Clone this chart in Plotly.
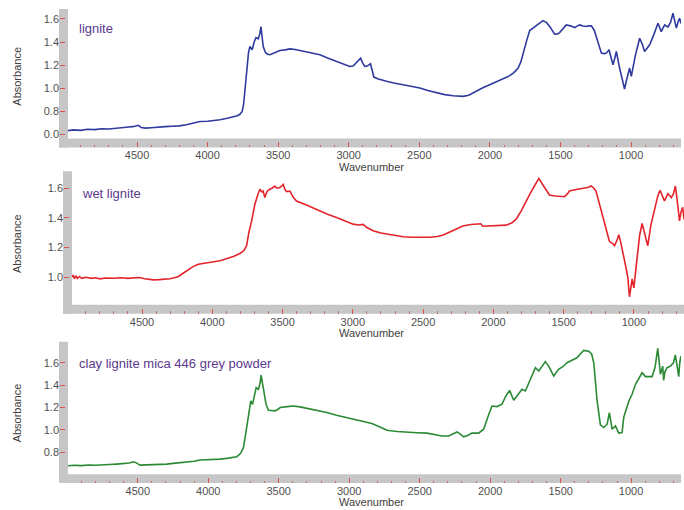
import plotly.graph_objects as go

# ---- FTIR absorbance spectra (wavenumber in cm-1, absorbance) ----
lignite_wn = [4990, 4950, 4900, 4850, 4800, 4750, 4700, 4650, 4600, 4560, 4530, 4510, 4490, 4470,
              4440, 4400, 4350, 4300, 4250, 4200, 4150, 4100, 4054, 4000, 3950, 3912, 3860, 3820,
              3790, 3771, 3755, 3745, 3735, 3720, 3710, 3700, 3692, 3684, 3670, 3657, 3641, 3630,
              3622, 3614, 3606, 3590, 3575, 3558, 3530, 3510, 3488, 3450, 3417, 3380, 3346, 3300,
              3250, 3204, 3150, 3086, 3040, 2992, 2969, 2950, 2930, 2916, 2900, 2886, 2870, 2855,
              2846, 2835, 2822, 2790, 2760, 2732, 2680, 2615, 2560, 2496, 2440, 2378, 2320, 2261,
              2220, 2190, 2150, 2095, 2050, 2001, 1960, 1918, 1890, 1859, 1830, 1800, 1780, 1765,
              1740, 1718, 1690, 1671, 1645, 1624, 1600, 1576, 1541, 1520, 1506, 1480, 1459, 1430,
              1399, 1380, 1364, 1340, 1317, 1300, 1281, 1260, 1246, 1228, 1210, 1190, 1175, 1156,
              1140, 1128, 1115, 1104, 1081, 1060, 1046, 1030, 1010, 998, 970, 939, 920, 904, 868,
              840, 809, 786, 762, 739, 720, 703, 679, 665, 656, 646]
lignite_abs = [0.634, 0.640, 0.636, 0.645, 0.642, 0.650, 0.648, 0.656, 0.660, 0.665, 0.668, 0.672, 0.680, 0.660,
               0.655, 0.658, 0.665, 0.668, 0.672, 0.675, 0.685, 0.698, 0.712, 0.715, 0.720, 0.728, 0.740, 0.752,
               0.762, 0.775, 0.800, 0.860, 0.980, 1.200, 1.310, 1.361, 1.345, 1.333, 1.400, 1.439, 1.428, 1.470,
               1.534, 1.450, 1.361, 1.310, 1.295, 1.290, 1.305, 1.315, 1.327, 1.332, 1.341, 1.335, 1.327, 1.318,
               1.303, 1.290, 1.262, 1.232, 1.210, 1.189, 1.192, 1.215, 1.245, 1.261, 1.215, 1.189, 1.192, 1.205,
               1.212, 1.160, 1.097, 1.080, 1.068, 1.060, 1.045, 1.031, 1.018, 1.003, 0.980, 0.959, 0.945, 0.936,
               0.932, 0.930, 0.940, 0.978, 1.005, 1.031, 1.052, 1.074, 1.090, 1.109, 1.135, 1.175, 1.230, 1.304,
               1.410, 1.499, 1.525, 1.542, 1.565, 1.585, 1.570, 1.534, 1.468, 1.470, 1.482, 1.520, 1.548, 1.540,
               1.525, 1.540, 1.548, 1.538, 1.534, 1.540, 1.540, 1.500, 1.447, 1.370, 1.304, 1.300, 1.304, 1.333,
               1.260, 1.203, 1.260, 1.318, 1.175, 1.060, 0.994, 1.080, 1.175, 1.103, 1.280, 1.433, 1.380, 1.318, 1.376,
               1.460, 1.563, 1.490, 1.548, 1.530, 1.570, 1.649, 1.520, 1.580, 1.606, 1.560]

wet_wn = [4998, 4990, 4980, 4970, 4960, 4945, 4930, 4900, 4860, 4830, 4799, 4760, 4700, 4650, 4600, 4562,
          4520, 4480, 4450, 4420, 4380, 4340, 4300, 4278, 4240, 4210, 4182, 4140, 4100, 4040, 4000, 3945,
          3898, 3850, 3803, 3775, 3756, 3740, 3720, 3697, 3675, 3661, 3648, 3638, 3626, 3610, 3590, 3575,
          3555, 3540, 3519, 3505, 3495, 3485, 3472, 3448, 3425, 3401, 3370, 3330, 3290, 3235, 3180, 3116,
          3060, 2998, 2960, 2927, 2900, 2856, 2800, 2760, 2700, 2642, 2580, 2523, 2450, 2400, 2357, 2310,
          2270, 2239, 2218, 2160, 2109, 2090, 2076, 2030, 1960, 1909, 1870, 1838, 1800, 1767, 1735, 1708,
          1690, 1677, 1660, 1637, 1620, 1601, 1560, 1530, 1495, 1475, 1459, 1420, 1364, 1330, 1305, 1285,
          1270, 1250, 1222, 1195, 1175, 1150, 1139, 1120, 1108, 1095, 1080, 1060, 1044, 1032, 1022, 1013,
          1001, 980, 960, 942, 925, 902, 880, 850, 830, 814, 795, 783, 770, 759, 745, 735, 720, 705, 690,
          676, 665, 653, 644]
wet_abs = [1.000, 1.015, 0.990, 1.010, 0.992, 1.005, 0.993, 1.000, 0.992, 0.996, 0.989, 0.995, 0.993, 0.996, 0.992, 0.993,
           0.998, 0.990, 0.985, 0.982, 0.984, 0.986, 0.990, 0.995, 1.005, 1.025, 1.044, 1.070, 1.088, 1.100, 1.103, 1.111,
           1.123, 1.140, 1.160, 1.180, 1.212, 1.300, 1.380, 1.492, 1.560, 1.593, 1.575, 1.581, 1.537, 1.580, 1.593, 1.600,
           1.615, 1.600, 1.604, 1.620, 1.626, 1.595, 1.577, 1.581, 1.540, 1.514, 1.500, 1.487, 1.470, 1.447, 1.425, 1.403,
           1.380, 1.358, 1.352, 1.356, 1.335, 1.313, 1.298, 1.291, 1.280, 1.273, 1.270, 1.268, 1.270, 1.275, 1.284, 1.305,
           1.325, 1.340, 1.346, 1.355, 1.362, 1.360, 1.344, 1.345, 1.348, 1.351, 1.365, 1.391, 1.450, 1.514, 1.570, 1.615,
           1.645, 1.666, 1.640, 1.604, 1.575, 1.554, 1.548, 1.545, 1.543, 1.560, 1.581, 1.590, 1.599, 1.605, 1.615, 1.600,
           1.581, 1.510, 1.403, 1.300, 1.242, 1.225, 1.212, 1.250, 1.286, 1.240, 1.179, 1.080, 1.000, 0.868, 0.930, 0.989,
           0.928, 1.120, 1.280, 1.362, 1.300, 1.212, 1.350, 1.480, 1.550, 1.586, 1.540, 1.514, 1.540, 1.564, 1.550, 1.537,
           1.560, 1.615, 1.500, 1.380, 1.440, 1.472, 1.390]

clay_wn = [4995, 4950, 4900, 4850, 4800, 4768, 4700, 4650, 4600, 4560, 4531, 4510, 4484, 4450, 4400, 4350,
           4294, 4250, 4200, 4150, 4100, 4058, 4000, 3916, 3870, 3821, 3797, 3770, 3750, 3730, 3715, 3698,
           3686, 3670, 3660, 3644, 3632, 3625, 3616, 3608, 3590, 3573, 3550, 3525, 3505, 3490, 3440, 3395,
           3350, 3300, 3230, 3158, 3090, 3016, 2970, 2922, 2880, 2839, 2790, 2732, 2660, 2590, 2520, 2448,
           2400, 2342, 2295, 2260, 2235, 2210, 2188, 2160, 2129, 2082, 2046, 2015, 1987, 1951, 1916, 1890,
           1862, 1833, 1800, 1774, 1750, 1720, 1690, 1679, 1655, 1630, 1608, 1580, 1549, 1514, 1480, 1455,
           1420, 1384, 1360, 1336, 1301, 1280, 1265, 1250, 1241, 1218, 1194, 1170, 1154, 1135, 1111, 1088,
           1064, 1052, 1016, 993, 969, 945, 922, 898, 851, 830, 811, 800, 792, 784, 776, 769, 760, 745, 721,
           700, 686, 672, 662, 655, 647]
clay_abs = [0.679, 0.683, 0.680, 0.686, 0.684, 0.688, 0.690, 0.694, 0.697, 0.703, 0.714, 0.705, 0.685, 0.686, 0.690, 0.692,
            0.694, 0.700, 0.706, 0.712, 0.720, 0.730, 0.732, 0.738, 0.745, 0.755, 0.760, 0.790, 0.843, 1.000, 1.140, 1.259,
            1.229, 1.320, 1.379, 1.363, 1.420, 1.491, 1.420, 1.348, 1.230, 1.176, 1.170, 1.170, 1.185, 1.200, 1.208, 1.214,
            1.206, 1.194, 1.175, 1.155, 1.132, 1.111, 1.100, 1.087, 1.070, 1.057, 1.030, 0.997, 0.985, 0.977, 0.975, 0.971,
            0.962, 0.946, 0.946, 0.965, 0.982, 0.960, 0.938, 0.950, 0.971, 0.971, 1.006, 1.120, 1.214, 1.209, 1.230, 1.300,
            1.354, 1.265, 1.320, 1.363, 1.348, 1.440, 1.530, 1.557, 1.527, 1.570, 1.611, 1.560, 1.482, 1.542, 1.570, 1.601,
            1.625, 1.646, 1.680, 1.712, 1.705, 1.680, 1.601, 1.400, 1.259, 1.045, 1.021, 1.051, 1.155, 1.006, 1.036, 0.971,
            0.977, 1.113, 1.259, 1.319, 1.408, 1.460, 1.512, 1.477, 1.477, 1.560, 1.730, 1.600, 1.497, 1.530, 1.571, 1.444,
            1.520, 1.557, 1.571, 1.600, 1.670, 1.560, 1.477, 1.600, 1.660]

# Tick labels for each panel (top panel uses a broken axis: lowest label reads 0.0)
top_tickvals = [0.6, 0.8, 1.0, 1.2, 1.4, 1.6]
top_ticktext = ["0.0", "0.8", "1.0", "1.2", "1.4", "1.6"]
mid_tickvals = [1.0, 1.2, 1.4, 1.6]
mid_ticktext = ["1.0", "1.2", "1.4", "1.6"]
bot_tickvals = [0.8, 1.0, 1.2, 1.4, 1.6]
bot_ticktext = ["0.8", "1.0", "1.2", "1.4", "1.6"]
x_tickvals = [4500, 4000, 3500, 3000, 2500, 2000, 1500, 1000]

panel_names = ["lignite", "wet lignite", "clay lignite mica 446 grey powder"]
line_colors = ["#2f3a9e", "#e3242b", "#2b8a34"]

W, H = 684, 510
FONT = "Liberation Sans, Arial, sans-serif"
BAND = "#c6c6c6"
TICK_RED = "#d9534f"

# Panel geometry in pixels: plot-area left, right, top, bottom
panels = [
    dict(l=68, r=681, t=9, b=139, yr=[0.566, 1.686], tv=top_tickvals, tt=top_ticktext,
         xr=[4989, 646], title_y=168, abs_y=77, name_y=29),
    dict(l=72, r=684, t=172, b=306, yr=[0.814, 1.714], tv=mid_tickvals, tt=mid_ticktext,
         xr=[4998, 644], title_y=334, abs_y=245, name_y=194),
    dict(l=68, r=681, t=343, b=476, yr=[0.604, 1.79], tv=bot_tickvals, tt=bot_ticktext,
         xr=[4995, 646], title_y=504, abs_y=415, name_y=365),
]
band = 9  # thickness of the grey axis bands

def px(xp):
    return xp / W

def py(yp):
    return 1 - yp / H

fig = go.Figure()
series = [(lignite_wn, lignite_abs), (wet_wn, wet_abs), (clay_wn, clay_abs)]
shapes = []
annotations = []

for i, (p, (wn, ab)) in enumerate(zip(panels, series)):
    n = "" if i == 0 else str(i + 1)
    fig.add_trace(go.Scatter(x=wn, y=ab, mode="lines", xaxis="x" + n, yaxis="y" + n,
                             line=dict(color=line_colors[i], width=1.6), showlegend=False,
                             hoverinfo="skip"))
    xa = dict(domain=[px(p["l"]), px(p["r"])], range=p["xr"], anchor="free",
              position=py(p["b"] + band), showgrid=False, zeroline=False, showline=False,
              tickvals=x_tickvals, ticks="inside", ticklen=5, tickwidth=1, tickcolor=TICK_RED,
              minor=dict(dtick=100, ticks="inside", ticklen=2.5, tickwidth=1, tickcolor="#c07070"),
              ticklabelstandoff=0,
              tickfont=dict(family=FONT, size=11, color="#505050"))
    ya = dict(domain=[py(p["b"]), py(p["t"])], range=p["yr"], anchor="free",
              position=px(p["l"] - band), showgrid=False, zeroline=False, showline=False,
              tickvals=p["tv"], ticktext=p["tt"], ticks="inside", ticklen=5, tickwidth=1.2,
              tickcolor=TICK_RED, tickfont=dict(family=FONT, size=11, color="#505050"))
    fig.update_layout(**{"xaxis" + n: xa, "yaxis" + n: ya})

    # grey L-shaped frame under the axes
    shapes.append(dict(type="rect", xref="paper", yref="paper", layer="below",
                       x0=px(p["l"] - band), x1=px(p["r"]), y0=py(p["b"] + band), y1=py(p["b"]),
                       fillcolor=BAND, line=dict(width=0)))
    shapes.append(dict(type="rect", xref="paper", yref="paper", layer="below",
                       x0=px(p["l"] - band), x1=px(p["l"]), y0=py(p["b"] + band), y1=py(p["t"]),
                       fillcolor=BAND, line=dict(width=0)))

    annotations.append(dict(text="Wavenumber", xref="paper", yref="paper", x=px(371), y=py(p["title_y"]),
                            showarrow=False, xanchor="center", yanchor="middle",
                            font=dict(family=FONT, size=11, color="#404040")))
    annotations.append(dict(text="Absorbance", xref="paper", yref="paper", x=px(17), y=py(p["abs_y"]),
                            showarrow=False, xanchor="center", yanchor="middle", textangle=-90,
                            font=dict(family=FONT, size=11, color="#404040")))
    annotations.append(dict(text=panel_names[i], xref="paper", yref="paper",
                            x=px(77 if i != 1 else 80), y=py(p["name_y"]),
                            showarrow=False, xanchor="left", yanchor="middle",
                            font=dict(family=FONT, size=13, color="#5b3a8c")))

fig.update_layout(width=W, height=H, margin=dict(l=0, r=0, t=0, b=0),
                  paper_bgcolor="white", plot_bgcolor="white",
                  shapes=shapes, annotations=annotations)

fig.write_html("out.html")
